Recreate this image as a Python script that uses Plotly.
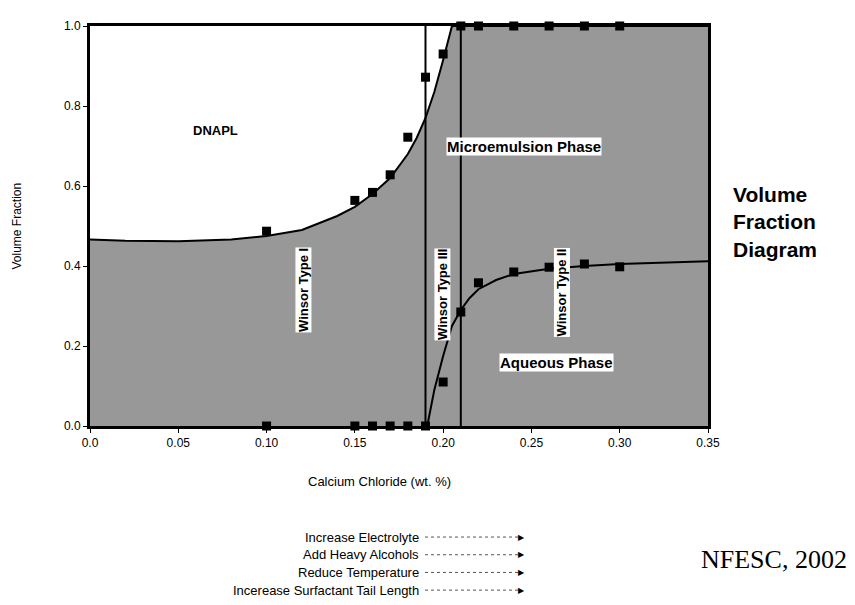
import plotly.graph_objects as go

# ---- data ----
upper_curve_x = [0.0, 0.02, 0.05, 0.08, 0.10, 0.12, 0.14, 0.15, 0.16, 0.17, 0.18, 0.185, 0.19, 0.195, 0.20, 0.205, 0.35]
upper_curve_y = [0.466, 0.463, 0.462, 0.466, 0.475, 0.49, 0.525, 0.548, 0.58, 0.62, 0.68, 0.72, 0.77, 0.835, 0.915, 1.0, 1.0]

lower_curve_x = [0.191, 0.195, 0.20, 0.205, 0.21, 0.215, 0.22, 0.23, 0.24, 0.26, 0.28, 0.30, 0.35]
lower_curve_y = [0.0, 0.09, 0.175, 0.25, 0.29, 0.32, 0.342, 0.365, 0.38, 0.393, 0.40, 0.405, 0.412]

upper_pts_x = [0.10, 0.15, 0.16, 0.17, 0.18, 0.19, 0.20, 0.21, 0.22, 0.24, 0.26, 0.28, 0.30]
upper_pts_y = [0.487, 0.564, 0.584, 0.628, 0.722, 0.872, 0.93, 1.0, 1.0, 1.0, 1.0, 1.0, 1.0]

lower_pts_x = [0.10, 0.15, 0.16, 0.17, 0.18, 0.19, 0.20, 0.21, 0.22, 0.24, 0.26, 0.28, 0.30]
lower_pts_y = [0.0, 0.0, 0.0, 0.0, 0.0, 0.0, 0.11, 0.285, 0.358, 0.385, 0.397, 0.405, 0.398]

boundary_x = [0.19, 0.21]

x_ticks = [0.0, 0.05, 0.10, 0.15, 0.20, 0.25, 0.30, 0.35]
x_tick_labels = ["0.0", "0.05", "0.10", "0.15", "0.20", "0.25", "0.30", "0.35"]
y_ticks = [0.0, 0.2, 0.4, 0.6, 0.8, 1.0]
y_tick_labels = ["0.0", "0.2", "0.4", "0.6", "0.8", "1.0"]

factors = ["Increase Electrolyte", "Add Heavy Alcohols", "Reduce Temperature", "Incerease Surfactant Tail Length"]

# ---- layout geometry (screen pixels; page body has an 8px margin) ----
OFF = 8
W, H = 855 - OFF, 605 - OFF
PL, PR, PT, PB = 90, 708, 19, 426          # plot box in screen pixels
L, T = PL - OFF, PT - OFF
PW, PH = PR - PL, PB - PT
R, B = W - L - PW, H - T - PH


def px(xs):
    return (xs - PL) / PW


def py(ys):
    return (PB - ys) / PH


SANS = "Liberation Sans, Arial, sans-serif"
SERIF = "Liberation Serif, Times New Roman, serif"
GRAY = "#989898"

fig = go.Figure()

fig.add_trace(go.Scatter(x=upper_curve_x, y=upper_curve_y, mode="lines", fill="tozeroy",
                         fillcolor=GRAY, line=dict(color="black", width=2), hoverinfo="skip"))
fig.add_trace(go.Scatter(x=lower_curve_x, y=lower_curve_y, mode="lines",
                         line=dict(color="black", width=2), hoverinfo="skip"))
for bx in boundary_x:
    fig.add_trace(go.Scatter(x=[bx, bx], y=[0, 1], mode="lines",
                             line=dict(color="black", width=2), hoverinfo="skip"))
fig.add_trace(go.Scatter(x=upper_pts_x, y=upper_pts_y, mode="markers", cliponaxis=False,
                         marker=dict(symbol="square", size=9, color="black")))
fig.add_trace(go.Scatter(x=lower_pts_x, y=lower_pts_y, mode="markers", cliponaxis=False,
                         marker=dict(symbol="square", size=9, color="black")))

ann = []


def region_label(text, x, y, size, angle=0):
    ann.append(dict(x=x, y=y, xref="x", yref="y", text="<b>%s</b>" % text, showarrow=False,
                    xanchor="center", yanchor="middle",
                    textangle=angle, font=dict(family=SANS, size=size, color="black"),
                    bgcolor="white", borderpad=0))


def page_text(text, xs, ys, size, family=SANS, xanchor="center", angle=0, align="center"):
    ann.append(dict(x=px(xs), y=py(ys), xref="paper", yref="paper", text=text, showarrow=False,
                    xanchor=xanchor, yanchor="middle", textangle=angle, align=align,
                    font=dict(family=family, size=size, color="black")))


region_label("DNAPL", 0.071, 0.74, 13)
region_label("Microemulsion Phase", 0.246, 0.70, 15)
region_label("Aqueous Phase", 0.264, 0.158, 15)
region_label("Winsor Type I", 0.1206, 0.34, 13, -90)
region_label("Winsor Type III", 0.1993, 0.33, 13, -90)
region_label("Winsor Type II", 0.267, 0.335, 13, -90)

page_text("Volume Fraction", 17, 223, 12, angle=-90)
page_text("Calcium Chloride (wt. %)", 379, 482, 13)
page_text("<b>Volume<br>Fraction<br>Diagram</b>", 731, 218, 21, xanchor="left", align="left")
page_text("NFESC, 2002", 699, 562, 26, family=SERIF, xanchor="left")

shapes = []
rows_y = [539, 557, 575, 593]
for label, ry in zip(factors, rows_y):
    page_text(label, 421, ry, 13, xanchor="right")
    shapes.append(dict(type="line", xref="paper", yref="paper", x0=px(425), x1=px(518),
                       y0=py(ry), y1=py(ry), line=dict(color="#555555", width=1, dash="dot")))
    page_text("\u25B6", 516, ry, 8, family="DejaVu Sans", xanchor="left")

fig.update_layout(
    width=W, height=H, margin=dict(l=L, r=R, t=T, b=B),
    paper_bgcolor="white", plot_bgcolor="white", showlegend=False,
    annotations=ann, shapes=shapes,
    xaxis=dict(range=[0, 0.35], tickvals=x_ticks, ticktext=x_tick_labels, showgrid=False,
               zeroline=False, showline=True, mirror=True, linecolor="black", linewidth=3,
               ticks="outside", ticklen=4, tickcolor="black",
               tickfont=dict(family=SANS, size=12, color="black")),
    yaxis=dict(range=[0, 1.0], tickvals=y_ticks, ticktext=y_tick_labels, showgrid=False,
               zeroline=False, showline=True, mirror=True, linecolor="black", linewidth=3,
               ticks="outside", ticklen=4, tickcolor="black",
               tickfont=dict(family=SANS, size=12, color="black")),
)

fig.write_html("out.html")
